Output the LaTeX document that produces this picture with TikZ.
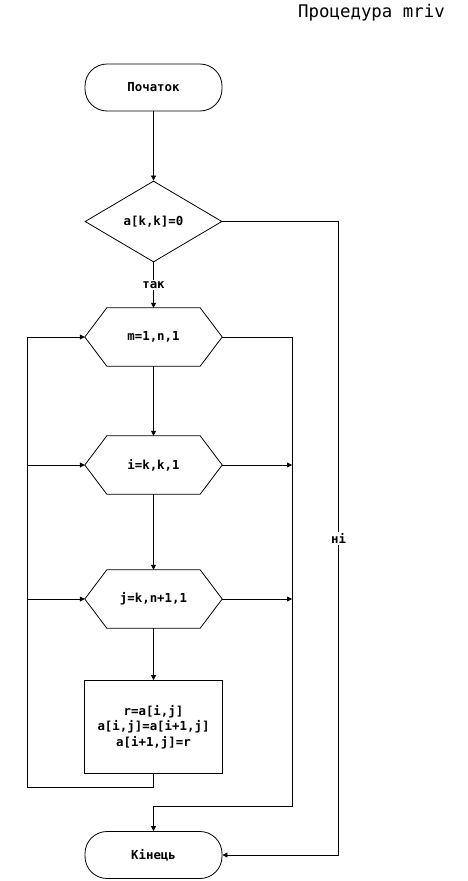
\documentclass[tikz,border=0pt]{standalone}
\usepackage{fontspec}
\setmonofont{DejaVu Sans Mono}
\usetikzlibrary{shapes.geometric,arrows.meta}
\begin{document}
\begin{tikzpicture}[x=1pt,y=-1pt,
  every node/.style={font=\ttfamily\bfseries\fontsize{12.4}{15.6}\selectfont},
  ln/.style={line width=0.8pt},
  arr/.style={ln,-{Triangle[length=5pt,width=5pt]}},
  term/.style={draw,ln,rounded corners=22pt,minimum width=137pt,minimum height=47pt,inner sep=0pt},
  dec/.style={draw,ln,diamond,aspect=1.69,minimum width=137pt,minimum height=81pt,inner sep=0pt},
  hexbox/.style={minimum width=137pt,minimum height=58pt,inner sep=0pt},
  proc/.style={draw,ln,minimum width=138pt,minimum height=93pt,inner sep=0pt,align=center},
  lbl/.style={fill=white,inner sep=1.5pt}]
\useasboundingbox (0,0) rectangle (468,881);
\node[font=\ttfamily\fontsize{17.4}{20}\selectfont] (title) at (371.5,13) {Процедура mriv};
\node[term] (s) at (153.5,87.5) {Початок};
\node[dec] (d) at (153.5,221.5) {a[k,k]=0};
\node[hexbox] (h1) at (153.5,337) {m=1,n,1};
\node[hexbox] (h2) at (153.5,465) {i=k,k,1};
\node[hexbox] (h3) at (153.5,599) {j=k,n+1,1};
\node[proc] (p) at (153.5,727) {r=a[i,j]\\a[i,j]=a[i+1,j]\\a[i+1,j]=r};
\node[term] (e) at (153.5,855) {Кінець};
\foreach \h in {h1,h2,h3}{
  \draw[ln] ([xshift=22pt]\h.north west) -- ([xshift=-22pt]\h.north east) -- (\h.east)
    -- ([xshift=-22pt]\h.south east) -- ([xshift=22pt]\h.south west) -- (\h.west) -- cycle;
}
\coordinate (lb) at (153.5,787);
\coordinate (ll) at (27,787);
\coordinate (rb) at (292,806);
\coordinate (n1) at (338.5,221.5);
\coordinate (n2) at (338.5,855);
\draw[arr] (s) -- (d);
\draw[arr] (d) -- node[lbl] {так} (h1);
\draw[arr] (h1) -- (h2);
\draw[arr] (h2) -- (h3);
\draw[arr] (h3) -- (p);
\draw[arr] (p.south) -- (lb) -- (ll) |- (h1.west);
\draw[arr] (ll |- h2.west) -- (h2.west);
\draw[arr] (ll |- h3.west) -- (h3.west);
\draw[arr] (h1.east) -| (rb) -| (e.north);
\draw[arr] (h2.east) -- (rb |- h2.east);
\draw[arr] (h3.east) -- (rb |- h3.east);
\draw[arr] (d.east) -- (n1) -- node[lbl] {ні} (n2) -- (e.east);
\end{tikzpicture}
\end{document}
